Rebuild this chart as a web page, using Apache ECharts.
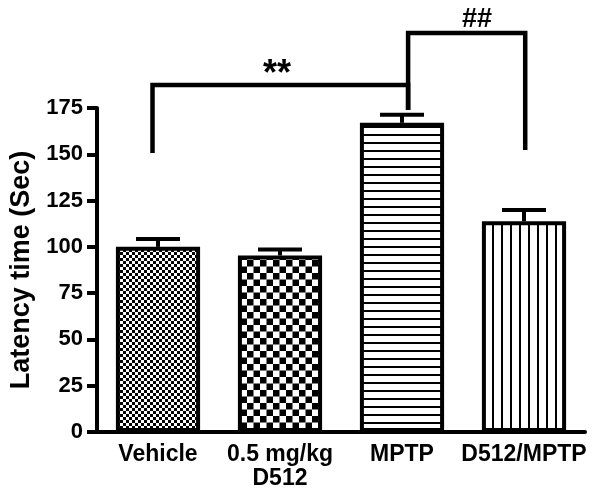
<!DOCTYPE html>
<html><head><meta charset="utf-8">
<script src="https://cdn.jsdelivr.net/npm/echarts@6/dist/echarts.min.js"></script>
<style>html,body{margin:0;padding:0;background:#fff}#c{width:601px;height:496px}</style>
</head><body><div id="c"></div>
<script>
// ---- data ----
const categories = ['Vehicle', '0.5 mg/kg\nD512', 'MPTP', 'D512/MPTP'];
const means = [100, 95.3, 167, 113.8];
const sems = [4.2, 3.3, 4.4, 6.1];
const yTicks = [0, 25, 50, 75, 100, 125, 150, 175];
const yAxisName = 'Latency time (Sec)';
// significance brackets (values in data units)
const bracketFrom = [0, 2];
const bracketTo = [2, 3];
const bracketTop = [187.4, 215.5];
const bracketLeftEnd = [150.7, 173.9];
const bracketRightEnd = [173.9, 152.3];
const sigLabels = ['**', '##'];
const sigLabelCat = [1, 2];
const sigLabelY = [193, 223];

// ---- patterns ----
function makeCanvas(w, h, draw) {
  const c = document.createElement('canvas');
  c.width = w; c.height = h;
  const g = c.getContext('2d');
  g.fillStyle = '#fff'; g.fillRect(0, 0, w, h);
  g.fillStyle = '#000';
  draw(g);
  return c;
}
const fineChecker = makeCanvas(6, 6, g => { g.fillRect(0, 0, 3, 3); g.fillRect(3, 3, 3, 3); });
const coarseChecker = makeCanvas(13, 13, g => { g.fillRect(0, 0, 6.5, 6.5); g.fillRect(6.5, 6.5, 6.5, 6.5); });
const hLines = makeCanvas(8, 8, g => { g.fillRect(0, 6, 8, 2); });
const vLines = makeCanvas(9, 9, g => { g.fillRect(6, 0, 2, 9); });
const patterns = [fineChecker, coarseChecker, hLines, vLines];

const FONT = 'Liberation Sans, Arial, sans-serif';
const chart = echarts.init(document.getElementById('c'), null, { renderer: 'canvas' });

// offsets of bracket legs relative to category centres, as fraction of band width
const legOffset = [[-0.045, 0.05], [0.05, 0.01]];
const labelOffset = [-0.025, 0.615];

chart.setOption({
  animation: false,
  backgroundColor: '#fff',
  grid: { left: 97, right: 16, top: 108, bottom: 64, containLabel: false },
  xAxis: {
    type: 'category',
    data: categories,
    axisLine: { lineStyle: { color: '#000', width: 4 } },
    axisTick: { alignWithLabel: true, length: 10, lineStyle: { color: '#000', width: 4 } },
    axisLabel: { color: '#000', fontSize: 23, fontWeight: 'bold', fontFamily: FONT, margin: 11, lineHeight: 24, interval: 0 },
    splitLine: { show: false }
  },
  yAxis: {
    type: 'value',
    min: yTicks[0],
    max: yTicks[yTicks.length - 1],
    interval: yTicks[1] - yTicks[0],
    name: yAxisName,
    nameLocation: 'middle',
    nameRotate: 90,
    nameGap: 60,
    nameTextStyle: { color: '#000', fontSize: 27, fontWeight: 'bold', fontFamily: FONT },
    axisLine: { show: true, lineStyle: { color: '#000', width: 4 } },
    axisTick: { show: true, length: 10, lineStyle: { color: '#000', width: 4 } },
    axisLabel: { color: '#000', fontSize: 22, fontWeight: 'bold', fontFamily: FONT, margin: 14 },
    splitLine: { show: false }
  },
  series: [
    {
      type: 'bar',
      barWidth: '69%',
      data: means.map((v, i) => ({
        value: v,
        itemStyle: { color: { image: patterns[i], repeat: 'repeat' }, borderColor: '#000', borderWidth: 4 }
      }))
    },
    {
      type: 'custom',
      clip: false,
      silent: true,
      data: means.map((v, i) => [i, v, sems[i]]),
      encode: { x: 0, y: 1 },
      renderItem: function (params, api) {
        const i = api.value(0);
        const p0 = api.coord([i, api.value(1)]);
        const p1 = api.coord([i, api.value(1) + api.value(2)]);
        const half = 22;
        const st = { stroke: '#000', lineWidth: 4, fill: null };
        return {
          type: 'group',
          children: [
            { type: 'line', shape: { x1: p0[0], y1: p0[1], x2: p1[0], y2: p1[1] }, style: st },
            { type: 'line', shape: { x1: p1[0] - half, y1: p1[1], x2: p1[0] + half, y2: p1[1] }, style: st }
          ]
        };
      },
      z: 3
    },
    {
      type: 'custom',
      clip: false,
      silent: true,
      data: bracketFrom.map((f, k) => [f, bracketTop[k], k]),
      encode: { x: 0, y: 1 },
      renderItem: function (params, api) {
        const k = api.value(2);
        const band = api.size([1, 0])[0];
        const xl = api.coord([bracketFrom[k], bracketTop[k]])[0] + legOffset[k][0] * band;
        const xr = api.coord([bracketTo[k], bracketTop[k]])[0] + legOffset[k][1] * band;
        const yt = api.coord([bracketFrom[k], bracketTop[k]])[1];
        const yl = api.coord([bracketFrom[k], bracketLeftEnd[k]])[1];
        const yr = api.coord([bracketTo[k], bracketRightEnd[k]])[1];
        const lx = api.coord([sigLabelCat[k], sigLabelY[k]]);
        return {
          type: 'group',
          children: [
            { type: 'polyline', shape: { points: [[xl, yl], [xl, yt], [xr, yt], [xr, yr]] },
              style: { stroke: '#000', lineWidth: 4.5, fill: null, lineJoin: 'miter' } },
            { type: 'text', x: lx[0] + labelOffset[k] * band, y: lx[1],
              style: { text: sigLabels[k], fill: '#000', align: 'center', verticalAlign: 'middle',
                       font: (k === 0 ? 'bold 36px ' : 'bold 27px ') + FONT } }
          ]
        };
      },
      z: 4
    }
  ]
});
</script>
</body></html>
